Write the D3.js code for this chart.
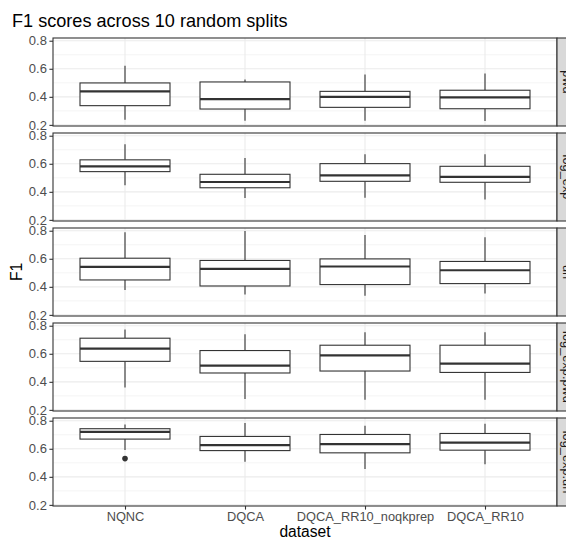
<!DOCTYPE html>
<html lang="en">
  <head>
    <meta charset="UTF-8" />
    <title>F1 scores across 10 random splits</title>
    <script src="https://d3js.org/d3.v7.min.js"></script>
    <style>
      body {
        margin: 0;
        background: #fff;
        font-family: "Liberation Sans", Arial, sans-serif;
      }
    </style>
  </head>
  <body>
    <svg id="chart"></svg>
    <script>
      // dataset categories and facet rows
      const categories = ["NQNC", "DQCA", "DQCA_RR10_noqkprep", "DQCA_RR10"];
      const facets = ["pwd", "log_exp", "un", "log_exp.pwd", "log_exp.un"];

      // per facet, per category: [whisker low, q1, median, q3, whisker high]
      const pwdStats = [
        [0.237, 0.337, 0.439, 0.499, 0.621],
        [0.229, 0.313, 0.384, 0.506, 0.523],
        [0.229, 0.325, 0.399, 0.439, 0.559],
        [0.227, 0.315, 0.396, 0.447, 0.566]
      ];
      const logExpStats = [
        [0.446, 0.544, 0.582, 0.628, 0.74],
        [0.356, 0.429, 0.47, 0.525, 0.642],
        [0.358, 0.475, 0.517, 0.601, 0.668],
        [0.345, 0.468, 0.506, 0.582, 0.668]
      ];
      const unStats = [
        [0.377, 0.449, 0.542, 0.604, 0.789],
        [0.346, 0.406, 0.528, 0.588, 0.798],
        [0.337, 0.416, 0.545, 0.599, 0.769],
        [0.353, 0.423, 0.518, 0.581, 0.753]
      ];
      const logExpPwdStats = [
        [0.36, 0.546, 0.637, 0.711, 0.773],
        [0.277, 0.463, 0.515, 0.623, 0.74],
        [0.272, 0.477, 0.589, 0.661, 0.754],
        [0.272, 0.467, 0.53, 0.661, 0.754]
      ];
      const logExpUnStats = [
        [0.592, 0.669, 0.721, 0.743, 0.773],
        [0.508, 0.587, 0.626, 0.688, 0.783],
        [0.456, 0.571, 0.633, 0.702, 0.764],
        [0.49, 0.59, 0.644, 0.709, 0.778]
      ];
      const allStats = [pwdStats, logExpStats, unStats, logExpPwdStats, logExpUnStats];

      // outliers: [facet index, category, value]
      const outliers = [[4, "NQNC", 0.53]];

      const yTicks = [0.2, 0.4, 0.6, 0.8];
      const yMinor = [0.3, 0.5, 0.7];

      const width = 566;
      const height = 537;
      const panelLeft = 53;
      const panelRight = 557;
      const panelTop = 38;
      const panelH = 88;
      const gap = 7;
      const stripW = 21;

      const svg = d3.select("#chart").attr("width", width).attr("height", height);

      const x = d3.scalePoint().domain(categories).range([panelLeft, panelRight]).padding(0.6);
      const boxW = x.step() * 0.75;
      const y = d3.scaleLinear().domain([0.192, 0.8194]).range([panelH, 0]);

      svg
        .append("text")
        .attr("x", 12)
        .attr("y", 27)
        .attr("font-size", 18.1)
        .attr("fill", "#000")
        .text("F1 scores across 10 random splits");

      facets.forEach((facet, i) => {
        const g = svg.append("g").attr("transform", `translate(0,${panelTop + i * (panelH + gap)})`);

        // grid
        g.selectAll(".minor")
          .data(yMinor)
          .join("line")
          .attr("x1", panelLeft)
          .attr("x2", panelRight)
          .attr("y1", (d) => y(d))
          .attr("y2", (d) => y(d))
          .attr("stroke", "#ebebeb")
          .attr("stroke-width", 0.55);
        g.selectAll(".major")
          .data(yTicks)
          .join("line")
          .attr("x1", panelLeft)
          .attr("x2", panelRight)
          .attr("y1", (d) => y(d))
          .attr("y2", (d) => y(d))
          .attr("stroke", "#ebebeb")
          .attr("stroke-width", 1.1);
        g.selectAll(".vmajor")
          .data(categories)
          .join("line")
          .attr("x1", (d) => x(d))
          .attr("x2", (d) => x(d))
          .attr("y1", 0)
          .attr("y2", panelH)
          .attr("stroke", "#ebebeb")
          .attr("stroke-width", 1.1);

        // boxes
        const stats = allStats[i];
        categories.forEach((c, j) => {
          const [lo, q1, med, q3, hi] = stats[j];
          const cx = x(c);
          g.append("line")
            .attr("x1", cx).attr("x2", cx)
            .attr("y1", y(hi)).attr("y2", y(q3))
            .attr("stroke", "#333").attr("stroke-width", 1.1);
          g.append("line")
            .attr("x1", cx).attr("x2", cx)
            .attr("y1", y(q1)).attr("y2", y(lo))
            .attr("stroke", "#333").attr("stroke-width", 1.1);
          g.append("rect")
            .attr("x", cx - boxW / 2)
            .attr("y", y(q3))
            .attr("width", boxW)
            .attr("height", y(q1) - y(q3))
            .attr("fill", "#fff")
            .attr("stroke", "#333")
            .attr("stroke-width", 1.1);
          g.append("line")
            .attr("x1", cx - boxW / 2).attr("x2", cx + boxW / 2)
            .attr("y1", y(med)).attr("y2", y(med))
            .attr("stroke", "#333").attr("stroke-width", 2.2);
        });

        outliers
          .filter((o) => o[0] === i)
          .forEach((o) => {
            g.append("circle")
              .attr("cx", x(o[1]))
              .attr("cy", y(o[2]))
              .attr("r", 2.8)
              .attr("fill", "#333");
          });

        // panel border
        g.append("rect")
          .attr("x", panelLeft)
          .attr("y", 0)
          .attr("width", panelRight - panelLeft)
          .attr("height", panelH)
          .attr("fill", "none")
          .attr("stroke", "#333")
          .attr("stroke-width", 1.1);

        // y axis
        const yAxis = g
          .append("g")
          .attr("transform", `translate(${panelLeft},0)`)
          .call(d3.axisLeft(y).tickValues(yTicks).tickFormat(d3.format(".1f")).tickSize(3.6).tickPadding(2.5));
        yAxis.select(".domain").remove();
        yAxis.selectAll("line").attr("stroke", "#333").attr("stroke-width", 1.1);
        yAxis
          .selectAll("text")
          .attr("fill", "#4d4d4d")
          .attr("font-size", 13)
          .attr("font-family", "Liberation Sans, Arial, sans-serif");

        // strip
        g.append("rect")
          .attr("x", panelRight)
          .attr("y", 0)
          .attr("width", stripW)
          .attr("height", panelH)
          .attr("fill", "#d9d9d9")
          .attr("stroke", "#333")
          .attr("stroke-width", 1.1);
        g.append("text")
          .attr("transform", `translate(${panelRight + stripW / 2},${panelH / 2}) rotate(90)`)
          .attr("text-anchor", "middle")
          .attr("dy", "0.35em")
          .attr("font-size", 12.8)
          .attr("fill", "#1a1a1a")
          .text(facet);

        // x axis on the last panel
        if (i === facets.length - 1) {
          const xAxis = g
            .append("g")
            .attr("transform", `translate(0,${panelH})`)
            .call(d3.axisBottom(x).tickSize(3.6).tickPadding(2.5));
          xAxis.select(".domain").remove();
          xAxis.selectAll("line").attr("stroke", "#333").attr("stroke-width", 1.1);
          xAxis
            .selectAll("text")
            .attr("fill", "#4d4d4d")
            .attr("font-size", 12.8)
            .attr("font-family", "Liberation Sans, Arial, sans-serif");
        }
      });

      svg
        .append("text")
        .attr("x", (panelLeft + panelRight) / 2)
        .attr("y", 537)
        .attr("text-anchor", "middle")
        .attr("font-size", 15.6)
        .text("dataset");

      svg
        .append("text")
        .attr("transform", `translate(22,${panelTop + (5 * panelH + 4 * gap) / 2}) rotate(-90)`)
        .attr("text-anchor", "middle")
        .attr("font-size", 15.6)
        .text("F1");
    </script>
  </body>
</html>
